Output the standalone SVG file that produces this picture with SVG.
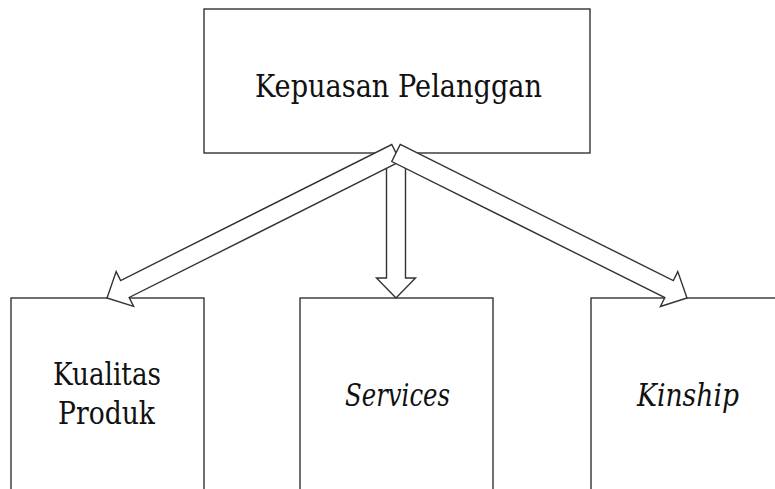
<svg xmlns="http://www.w3.org/2000/svg" width="775" height="489" viewBox="0 0 775 489">
<style>
.box{fill:#fff;stroke:#333;stroke-width:1.4}
.arr{fill:#fff;stroke:#333;stroke-width:1.4;stroke-linejoin:miter}
text{font-family:'DejaVu Serif',serif;font-size:31.5px;fill:#111;text-anchor:middle}
.i{font-style:italic}
</style>
<rect width="775" height="489" fill="#fff"/>
<g id="kepuasan">
<rect class="box" x="204" y="9" width="386" height="144"/>
<text x="398.5" y="97" textLength="287" lengthAdjust="spacingAndGlyphs">Kepuasan Pelanggan</text>
</g>
<g id="kualitas">
<rect class="box" x="11" y="298" width="193" height="200"/>
<text x="107" y="385" textLength="108" lengthAdjust="spacingAndGlyphs">Kualitas</text>
<text x="106.5" y="424" textLength="97" lengthAdjust="spacingAndGlyphs">Produk</text>
</g>
<g id="services">
<rect class="box" x="300" y="298" width="193" height="200"/>
<text class="i" x="397.5" y="406" textLength="105" lengthAdjust="spacingAndGlyphs">Services</text>
</g>
<g id="kinship">
<rect class="box" x="591" y="298" width="193" height="200"/>
<text class="i" x="688" y="406" textLength="102" lengthAdjust="spacingAndGlyphs">Kinship</text>
</g>
<g id="connectors">
<path class="arr" transform="translate(396,153) rotate(90)" d="M0,-9.5 H125 V-19.5 L145,0 L125,19.5 V9.5 H0 Z"/>
<path class="arr" transform="translate(396,153) rotate(153.36)" d="M0,-9.5 H303.3 V-19.5 L323.3,0 L303.3,19.5 V9.5 H0 Z"/>
<path class="arr" transform="translate(396,153) rotate(26.48)" d="M0,-9.5 H305.1 V-19.5 L325.1,0 L305.1,19.5 V9.5 H0 Z"/>
</g>
</svg>
